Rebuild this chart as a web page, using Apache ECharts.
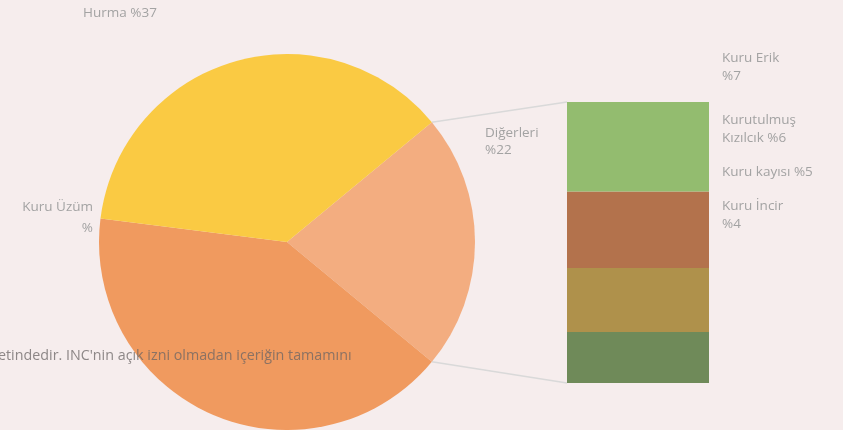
<!DOCTYPE html>
<html>
<head>
<meta charset="utf-8">
<script src="https://cdn.jsdelivr.net/npm/echarts@6/dist/echarts.min.js"></script>
<style>
html, body { margin: 0; padding: 0; background: #f6eded; }
#pieBar { width: 843px; height: 430px; }
</style>
</head>
<body>
<div id="pieBar"></div>
<script>
// pie slices
var pieNames = ['Diğerleri', 'Kuru Üzüm', 'Hurma']
var pieValues = [22, 41, 37]
var pieLabels = ['Diğerleri\n%22', 'Kuru Üzüm\n%', 'Hurma %37']
// "Diğerleri" broken down in the bar (bottom to top)
var barNames = ['Kuru İncir', 'Kuru kayısı', 'Kurutulmuş Kızılcık', 'Kuru Erik']
var barValues = [4, 5, 6, 7]
var barLabels = ['Kuru İncir\n%4', 'Kuru kayısı %5', 'Kurutulmuş\nKızılcık %6', 'Kuru Erik\n%7']

var pieColors = ['#f3ad80', '#f09a5f', '#faca43']
var barColors = ['#6f8a59', '#af914b', '#b3724c', '#93bc6f']
var labelOffsets = [-142, -128, -101, -80]
var pieLabelPos = [
  { x: 485, y: 142, align: 'left', lh: 17 },
  { x: 93, y: 218, align: 'right', lh: 21 },
  { x: 83, y: 13, align: 'left', lh: 18 }
]

var cx = 287
var cy = 242
var r = 188
var total = pieValues.reduce(function (a, b) { return a + b }, 0)
var startAngle = pieValues[0] / total * 180

var chart = echarts.init(document.getElementById('pieBar'))
var textStyle = { color: '#a3a3a3', fontFamily: 'Open Sans', fontSize: 13.5 }

var barSeries = barValues.map(function (v, i) {
  return {
    name: barNames[i],
    type: 'bar',
    stack: 'rest',
    barWidth: '100%',
    data: [v],
    itemStyle: { color: barColors[i] },
    label: {
      show: true,
      position: 'right',
      distance: 13,
      offset: [0, labelOffsets[i]],
      formatter: barLabels[i],
      lineHeight: 18,
      color: textStyle.color,
      fontFamily: textStyle.fontFamily,
      fontSize: textStyle.fontSize
    }
  }
})

var option = {
  backgroundColor: '#f6eded',
  animation: false,
  grid: { left: 567, top: 102, width: 142, height: 281 },
  xAxis: { type: 'category', data: ['Diğerleri'], show: false },
  yAxis: { type: 'value', min: 0, max: pieValues[0], show: false },
  series: [
    {
      type: 'pie',
      center: [cx, cy],
      radius: r,
      startAngle: startAngle,
      clockwise: true,
      data: pieNames.map(function (n, i) {
        return {
          name: n,
          value: pieValues[i],
          itemStyle: { color: pieColors[i] },
          label: { lineHeight: pieLabelPos[i].lh }
        }
      }),
      label: {
        show: true,
        formatter: function (p) { return pieLabels[p.dataIndex] },
        color: textStyle.color,
        fontFamily: textStyle.fontFamily,
        fontSize: textStyle.fontSize
      },
      labelLine: { show: false },
      labelLayout: function (params) {
        var p = pieLabelPos[params.dataIndex]
        return { x: p.x, y: p.y, align: p.align, verticalAlign: 'middle' }
      },
      emphasis: { disabled: true }
    }
  ].concat(barSeries)
}
chart.setOption(option)

// connector lines from the "Diğerleri" slice edges to the bar corners
var a = startAngle * Math.PI / 180
var barLeft = option.grid.left
var barTop = chart.convertToPixel({ yAxisIndex: 0 }, pieValues[0])
var barBottom = chart.convertToPixel({ yAxisIndex: 0 }, 0)
chart.setOption({
  graphic: [
    {
      type: 'line',
      shape: { x1: cx + r * Math.cos(a), y1: cy - r * Math.sin(a), x2: barLeft, y2: barTop },
      style: { stroke: '#d9d9d9', lineWidth: 1.5 },
      z: 0
    },
    {
      type: 'line',
      shape: { x1: cx + r * Math.cos(a), y1: cy + r * Math.sin(a), x2: barLeft, y2: barBottom },
      style: { stroke: '#d9d9d9', lineWidth: 1.5 },
      z: 0
    },
    {
      type: 'text',
      left: -2,
      top: 349,
      z: 100,
      style: {
        text: "etindedir. INC'nin açık izni olmadan içeriğin tamamını",
        fill: 'rgba(105,100,100,0.75)',
        font: '14.3px "Open Sans"'
      }
    }
  ]
})
</script>
</body>
</html>
